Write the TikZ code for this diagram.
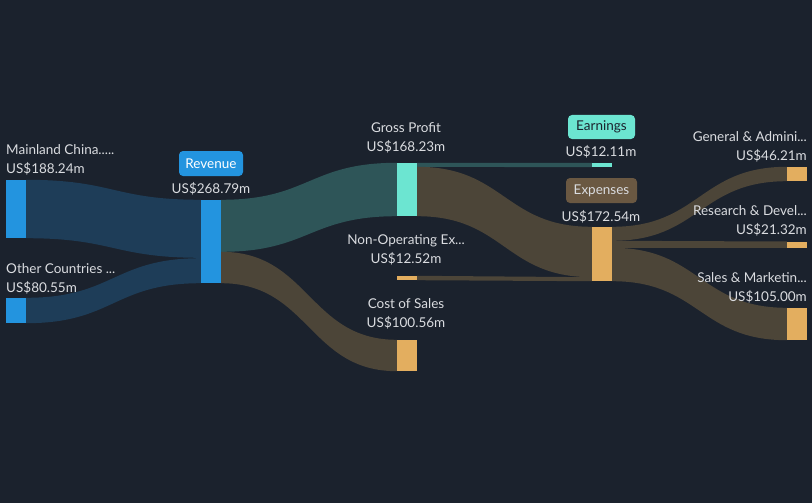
\documentclass[tikz,border=0pt]{standalone}
\usepackage{fontspec}
\setmainfont{Lato}
\usetikzlibrary{calc}
\definecolor{bg}{HTML}{1B222D}
\definecolor{nblue}{HTML}{2394DF}
\definecolor{nteal}{HTML}{6CE5D1}
\definecolor{norange}{HTML}{E3AE5F}
\definecolor{fblue}{HTML}{1E3D58}
\definecolor{fteal}{HTML}{2E5558}
\definecolor{fbrown}{HTML}{4C4538}
\definecolor{expbox}{HTML}{6A5842}
\definecolor{txt}{HTML}{DADCE0}
\newcommand\band[5]{\fill[#1] let \p1=#2, \p2=#3, \p3=#4, \p4=#5, \n1={(\x1+\x3)/2} in
  (\p1) .. controls (\n1,\y1) and (\n1,\y3) .. (\p3) -- (\p4) .. controls (\n1,\y4) and (\n1,\y2) .. (\p2) -- cycle;}
\begin{document}
\begin{tikzpicture}[x=1pt,y=-1pt,
  bar/.style={rectangle,inner sep=0pt,minimum width=20pt},
  lbl/.style={inner sep=0pt,text=txt,font=\fontsize{13.5}{15}\selectfont},
  tag/.style={rounded corners=4pt,inner sep=0pt,minimum height=25pt,font=\fontsize{13.5}{15}\selectfont}]
\fill[bg] (0,0) rectangle (812,503);
\useasboundingbox (0,0) rectangle (812,503);
% bars
\node[bar,fill=nblue,minimum height=58pt] (mc) at (16,209) {};
\node[bar,fill=nblue,minimum height=25pt] (oc) at (16,310.5) {};
\node[bar,fill=nblue,minimum height=83pt] (rev) at (211,241.5) {};
\node[bar,fill=nteal,minimum height=53pt] (gp) at (407,189.5) {};
\node[bar,fill=norange,minimum height=4pt] (nop) at (407,278) {};
\node[bar,fill=norange,minimum height=31pt] (cos) at (407,355.5) {};
\node[bar,fill=nteal,minimum height=4pt] (earn) at (602,165) {};
\node[bar,fill=norange,minimum height=54pt] (exp) at (602,254) {};
\node[bar,fill=norange,minimum height=14pt] (ga) at (797,174) {};
\node[bar,fill=norange,minimum height=6pt] (rd) at (797,244.7) {};
\node[bar,fill=norange,minimum height=32pt] (sm) at (797,324) {};
% flows
\band{fblue}{(mc.north east)}{(mc.south east)}{(rev.north west)}{($(rev.north west)+(0,58)$)}
\band{fblue}{(oc.north east)}{(oc.south east)}{($(rev.south west)+(0,-25)$)}{(rev.south west)}
\band{fteal}{(rev.north east)}{($(rev.north east)+(0,52)$)}{(gp.north west)}{(gp.south west)}
\band{fbrown}{($(rev.north east)+(0,52)$)}{(rev.south east)}{(cos.north west)}{(cos.south west)}
\band{fteal}{(gp.north east)}{($(gp.north east)+(0,4)$)}{(earn.north west)}{(earn.south west)}
\band{fbrown}{($(gp.north east)+(0,4)$)}{(gp.south east)}{(exp.north west)}{($(exp.south west)+(0,-4)$)}
\band{fbrown}{(nop.north east)}{(nop.south east)}{($(exp.south west)+(0,-4)$)}{(exp.south west)}
\band{fbrown}{(exp.north east)}{($(exp.north east)+(0,14)$)}{(ga.north west)}{(ga.south west)}
\band{fbrown}{($(exp.north east)+(0,14)$)}{($(exp.north east)+(0,21)$)}{(rd.north west)}{(rd.south west)}
\band{fbrown}{($(exp.north east)+(0,21)$)}{(exp.south east)}{(sm.north west)}{(sm.south west)}
% redraw bars on top
\foreach \n/\c in {mc/nblue,oc/nblue,rev/nblue,gp/nteal,nop/norange,cos/norange,earn/nteal,exp/norange,ga/norange,rd/norange,sm/norange}
  \fill[\c] (\n.north west) rectangle (\n.south east);
% labels
\node[lbl,anchor=base west] (l1) at (6,154) {Mainland China.....};
\node[lbl,anchor=base west] (v1) at (6,173) {US\$188.24m};
\node[lbl,anchor=base west] (l2) at (6,273) {Other Countries ...};
\node[lbl,anchor=base west] (v2) at (6,292) {US\$80.55m};
\node[tag,fill=nblue,text=white,minimum width=64pt] (t1) at (211,163.5) {Revenue};
\node[lbl,anchor=base] (v3) at (211,193) {US\$268.79m};
\node[lbl,anchor=base] (l4) at (406,132) {Gross Profit};
\node[lbl,anchor=base] (v4) at (406,151) {US\$168.23m};
\node[lbl,anchor=base] (l5) at (406,244) {Non-Operating Ex...};
\node[lbl,anchor=base] (v5) at (406,263) {US\$12.52m};
\node[lbl,anchor=base] (l6) at (406,308) {Cost of Sales};
\node[lbl,anchor=base] (v6) at (406,327) {US\$100.56m};
\node[tag,fill=nteal,text=bg,minimum width=67pt,minimum height=24pt] (t2) at (601.5,127) {Earnings};
\node[lbl,anchor=base] (v7) at (601,157) {US\$12.11m};
\node[tag,fill=expbox,text=txt,minimum width=71pt] (t3) at (601.5,190.5) {Expenses};
\node[lbl,anchor=base] (v8) at (601,221) {US\$172.54m};
\node[lbl,anchor=base east] (l9) at (807,141) {General \& Admini...};
\node[lbl,anchor=base east] (v9) at (807,160) {US\$46.21m};
\node[lbl,anchor=base east] (l10) at (807,215) {Research \& Devel...};
\node[lbl,anchor=base east] (v10) at (807,234) {US\$21.32m};
\node[lbl,anchor=base east] (l11) at (807,282) {Sales \& Marketin...};
\node[lbl,anchor=base east] (v11) at (807,301) {US\$105.00m};
\end{tikzpicture}
\end{document}
